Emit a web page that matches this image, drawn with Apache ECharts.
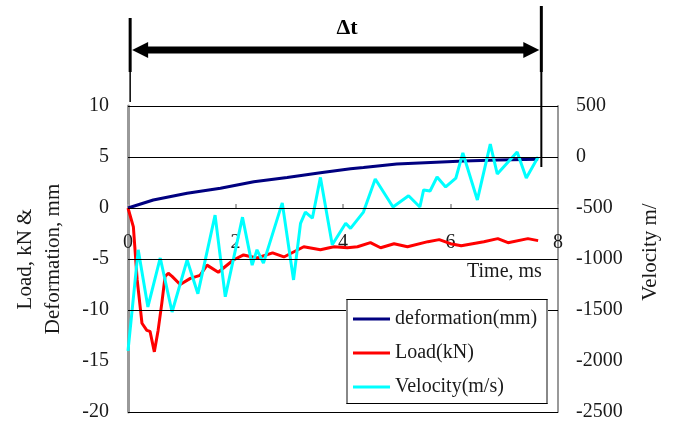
<!DOCTYPE html>
<html><head><meta charset="utf-8">
<script src="https://cdn.jsdelivr.net/npm/echarts@6/dist/echarts.min.js"></script>
<style>html,body{margin:0;padding:0;background:#fff}#c{width:678px;height:426px}</style>
</head><body><div id="c"></div>
<script>
// ---- data ----
const xTicks = [0, 2, 4, 6, 8];
const leftRange = [-20, 10];
const rightRange = [-2500, 500];
const gridLevels = [10, 5, 0, -5, -10, -20];
const deltaT = [0.04, 7.69];

const deformT = [0, 0.47, 1.1, 1.72, 2.34, 2.96, 3.58, 4.14, 4.38, 5.0, 5.63, 6.25, 6.88, 7.63];
const deformV = [0, 0.78, 1.44, 1.93, 2.58, 3.0, 3.46, 3.85, 3.97, 4.31, 4.47, 4.6, 4.7, 4.77];

const loadT = [0, 0.1, 0.17, 0.26, 0.35, 0.41, 0.49, 0.56, 0.63, 0.69, 0.75, 0.82, 0.97, 1.16, 1.34, 1.47, 1.68, 1.96, 2.15, 2.4, 2.69, 2.9, 3.27, 3.58, 3.83, 4.08, 4.27, 4.51, 4.7, 4.95, 5.2, 5.58, 5.79, 6.0, 6.2, 6.62, 6.88, 7.07, 7.44, 7.63];
const loadV = [0, -1.85, -7, -11.3, -12, -12.1, -14.1, -12, -9.3, -6.7, -6.4, -6.7, -7.5, -6.9, -6.6, -5.6, -6.3, -5.1, -4.6, -4.9, -4.4, -4.8, -3.8, -4.1, -3.8, -3.9, -3.8, -3.4, -3.9, -3.5, -3.8, -3.3, -3.1, -3.5, -3.7, -3.3, -3.0, -3.4, -3.0, -3.2];

const velT = [0, 0.19, 0.37, 0.6, 0.82, 1.1, 1.3, 1.62, 1.81, 2.13, 2.31, 2.4, 2.52, 2.87, 3.08, 3.21, 3.3, 3.43, 3.58, 3.8, 4.05, 4.14, 4.38, 4.6, 4.93, 5.22, 5.43, 5.5, 5.62, 5.75, 5.91, 6.1, 6.23, 6.5, 6.74, 6.87, 7.24, 7.41, 7.63];
const velV = [-1900, -910, -1470, -990, -1520, -1010, -1340, -570, -1370, -590, -1060, -910, -1040, -450, -1205, -650, -540, -600, -200, -860, -650, -700, -540, -216, -490, -380, -490, -323, -333, -196, -294, -206, 39, -421, 127, -167, 49, -206, 0];

const seriesNames = ['deformation(mm)', 'Load(kN)', 'Velocity(m/s)'];
const leftTitle = 'Load, kN &\nDeformation, mm';
const rightTitle = 'Velocity m/';
const xTitle = 'Time, ms';
const deltaLabel = 'Δt';

// ---- chart ----
const FONT = '"Liberation Serif","Times New Roman",serif';
const TXT = '#1a1a1a';
const plain = v => String(v);
const zip = (t, v) => t.map((x, i) => [x, v[i]]);
const chart = echarts.init(document.getElementById('c'), null, {renderer: 'canvas'});

chart.setOption({
  animation: false,
  grid: {left: 128, right: 120, top: 106, bottom: 14, containLabel: false, outerBoundsMode: 'none'},
  xAxis: {
    type: 'value', min: xTicks[0], max: xTicks[xTicks.length - 1], interval: 2,
    position: 'bottom', offset: -204,
    axisLine: {show: true, onZero: false, lineStyle: {color: '#000', width: 1}},
    axisTick: {show: true, inside: true, length: 4, lineStyle: {color: '#aaa', width: 2}},
    axisLabel: {margin: 25, fontSize: 20, fontFamily: FONT, color: TXT, formatter: plain, hideOverlap: false},
    splitLine: {show: false}
  },
  yAxis: [{
    type: 'value', min: leftRange[0], max: leftRange[1], interval: 5, position: 'left',
    axisLine: {show: true, onZero: false, lineStyle: {color: '#999', width: 3}},
    axisTick: {show: false},
    axisLabel: {margin: 19, fontSize: 20, fontFamily: FONT, color: TXT, formatter: plain},
    splitLine: {show: false},
    name: leftTitle, nameLocation: 'middle', nameRotate: 90, nameGap: 61,
    nameTextStyle: {fontSize: 21, fontFamily: FONT, color: TXT, lineHeight: 28}
  }, {
    type: 'value', min: rightRange[0], max: rightRange[1], interval: 500, position: 'right',
    axisLine: {show: true, onZero: false, lineStyle: {color: '#999', width: 2}},
    axisTick: {show: false},
    axisLabel: {margin: 18, fontSize: 20, fontFamily: FONT, color: TXT, formatter: plain},
    splitLine: {show: false},
    name: rightTitle, nameLocation: 'middle', nameRotate: 90, nameGap: 82,
    nameTextStyle: {fontSize: 21, fontFamily: FONT, color: TXT, padding: [0, 0, 0, 14]}
  }],
  legend: {
    data: seriesNames, orient: 'vertical', left: 353, top: 309, padding: 0,
    itemWidth: 37, itemHeight: 3, icon: 'rect', itemGap: 14, z: 20,
    textStyle: {fontSize: 20, fontFamily: FONT, color: TXT, lineHeight: 20}
  },
  series: [{
    type: 'line', name: '_grid', data: [], yAxisIndex: 0, silent: true,
    markLine: {silent: true, symbol: 'none', label: {show: false}, animation: false,
      lineStyle: {color: '#000', width: 1, type: 'solid'},
      data: gridLevels.map(v => ({yAxis: v}))}
  }, {
    type: 'line', name: seriesNames[0], data: zip(deformT, deformV), yAxisIndex: 0,
    showSymbol: false, lineStyle: {color: '#000080', width: 3}, itemStyle: {color: '#000080'}
  }, {
    type: 'line', name: seriesNames[1], data: zip(loadT, loadV), yAxisIndex: 0,
    showSymbol: false, lineStyle: {color: '#ff0000', width: 3}, itemStyle: {color: '#ff0000'}
  }, {
    type: 'line', name: seriesNames[2], data: zip(velT, velV), yAxisIndex: 1,
    showSymbol: false, lineStyle: {color: '#00ffff', width: 3}, itemStyle: {color: '#00ffff'}
  }]
});

const x0 = chart.convertToPixel({xAxisIndex: 0}, deltaT[0]);
const x1 = chart.convertToPixel({xAxisIndex: 0}, deltaT[1]);
const ay = 50;
chart.setOption({
  graphic: [
    {type: 'rect', z: 10, shape: {x: 346.5, y: 299.5, width: 201, height: 104},
      style: {fill: '#fff', stroke: '#000', lineWidth: 1}},
    {type: 'line', z: 11, shape: {x1: 347, y1: 300, x2: 347, y2: 403}, style: {stroke: '#888', lineWidth: 2}},
    {type: 'line', z: 11, shape: {x1: 547, y1: 300, x2: 547, y2: 403}, style: {stroke: '#888', lineWidth: 2}},
    {type: 'text', z: 20, left: 467, top: 262, style: {text: xTitle, font: '20px ' + FONT, fill: TXT}},
    {type: 'line', z: 30, shape: {x1: x0, y1: 18, x2: x0, y2: 72}, style: {stroke: '#000', lineWidth: 3}},
    {type: 'line', z: 30, shape: {x1: x0, y1: 72, x2: x0, y2: 102}, style: {stroke: '#000', lineWidth: 1.5}},
    {type: 'line', z: 30, shape: {x1: x1, y1: 6, x2: x1, y2: 72}, style: {stroke: '#000', lineWidth: 3}},
    {type: 'line', z: 30, shape: {x1: x1, y1: 72, x2: x1, y2: 167}, style: {stroke: '#000', lineWidth: 2}},
    {type: 'line', z: 30, shape: {x1: x0 + 12, y1: ay, x2: x1 - 12, y2: ay}, style: {stroke: '#000', lineWidth: 7}},
    {type: 'polygon', z: 30, shape: {points: [[x0 + 2, ay], [x0 + 18, ay - 8], [x0 + 18, ay + 8]]}, style: {fill: '#000'}},
    {type: 'polygon', z: 30, shape: {points: [[x1 - 2, ay], [x1 - 18, ay - 8], [x1 - 18, ay + 8]]}, style: {fill: '#000'}},
    {type: 'text', z: 30, x: 347, y: 28, style: {text: deltaLabel, font: 'bold 22px ' + FONT, fill: '#000', align: 'center', verticalAlign: 'middle'}}
  ]
});
</script></body></html>
